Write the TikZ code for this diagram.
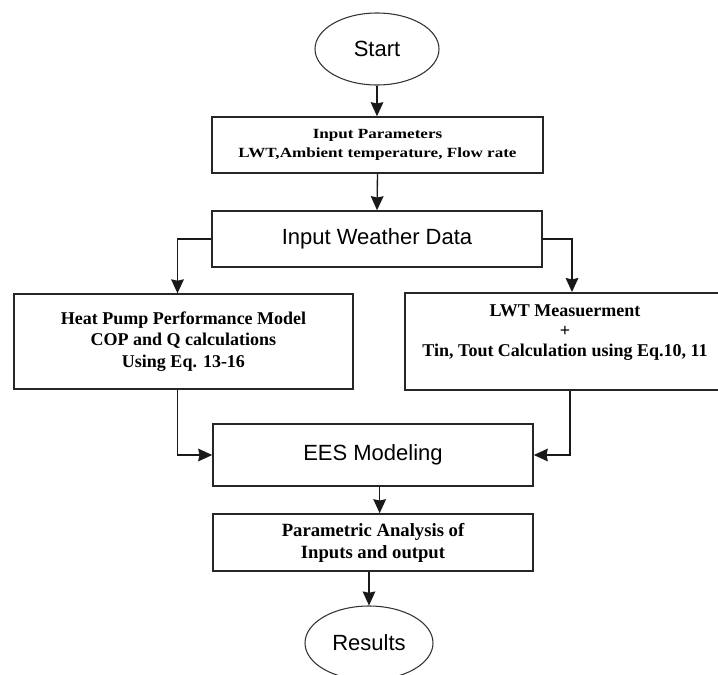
\documentclass[tikz,border=0pt]{standalone}
\usepackage{fontspec}
\setmainfont{Liberation Serif}
\newfontfamily\arialfont{Liberation Sans}
\newfontfamily\widefont[FakeStretch=1.22]{Liberation Serif}
\usetikzlibrary{arrows.meta,shapes.geometric}

\tikzset{
  flowbox/.style={draw=black!85, line width=1.2pt, inner sep=0pt, align=center},
  termnode/.style={ellipse, draw=black!80, line width=0.8pt, inner sep=0pt,
    font=\arialfont\fontsize{16.5}{19}\selectfont},
  flowarrow/.style={draw=black!90, line width=1pt,
    -{Stealth[length=10.5pt,width=9.5pt,inset=1pt]}},
}

\begin{document}
\begin{tikzpicture}[x=0.75pt,y=0.75pt,yscale=-1,xscale=1]
\useasboundingbox (0,0) rectangle (718,675);
\clip (0,0) rectangle (718,675);

%Shape: Ellipse [start]
\node[termnode, minimum width=93pt, minimum height=54pt] (start) at (377,49) {Start};
%Shape: Rectangle [params]
\node[flowbox, minimum width=248pt, minimum height=42pt,
  font=\widefont\bfseries\fontsize{10.5}{14}\selectfont] (params) at (377.5,145)
  {Input Parameters\\LWT,Ambient temperature, Flow rate};
%Shape: Rectangle [weather]
\node[flowbox, minimum width=247.5pt, minimum height=42pt,
  font=\arialfont\fontsize{16.5}{19}\selectfont] (weather) at (377,239) {Input Weather Data};
%Shape: Rectangle [hppm]
\node[flowbox, minimum width=254pt, minimum height=71pt,
  font=\bfseries\fontsize{13.5}{16}\selectfont] (hppm) at (183.5,341.5)
  {Heat Pump Performance Model\\COP and Q calculations\\Using Eq. 13-16};
%Shape: Rectangle [lwt]
\node[flowbox, minimum width=240pt, minimum height=73pt] (lwt) at (565,341.5) {};
% Text Node
\node[align=center, inner sep=0pt, font=\bfseries\fontsize{13.5}{15}\selectfont]
  (lwttext) at ([yshift=-6.5pt]lwt.center)
  {LWT Measuerment\\+\\Tin, Tout Calculation using Eq.10, 11};
%Shape: Rectangle [ees]
\node[flowbox, minimum width=240pt, minimum height=46.5pt,
  font=\arialfont\fontsize{16.5}{19}\selectfont] (ees) at (373,455) {EES Modeling};
%Shape: Rectangle [analysis]
\node[flowbox, minimum width=240pt, minimum height=42.75pt,
  font=\bfseries\fontsize{14}{16.5}\selectfont] (analysis) at (373,542.5)
  {Parametric Analysis of\\Inputs and output};
%Shape: Ellipse [results]
\node[termnode, minimum width=96pt, minimum height=55.5pt] (results) at (369,643) {Results};

%Straight Lines
\draw[flowarrow] (start.south) -- (start.south |- params.north);
\draw[flowarrow] (params.south) -- (weather.north);
\draw[flowarrow] (weather.west) -| ([xshift=-4.5pt]hppm.north);
\draw[flowarrow] (weather.east) -| ([xshift=5.25pt]lwt.north);
\draw[flowarrow] ([xshift=-4.5pt]hppm.south) |- (ees.west);
\draw[flowarrow] ([xshift=3.75pt]lwt.south) |- (ees.east);
\draw[flowarrow] ([xshift=5pt]ees.south) -- ([xshift=5pt]analysis.north);
\draw[flowarrow] (analysis.south -| results.north) -- (results.north);

\end{tikzpicture}
\end{document}
